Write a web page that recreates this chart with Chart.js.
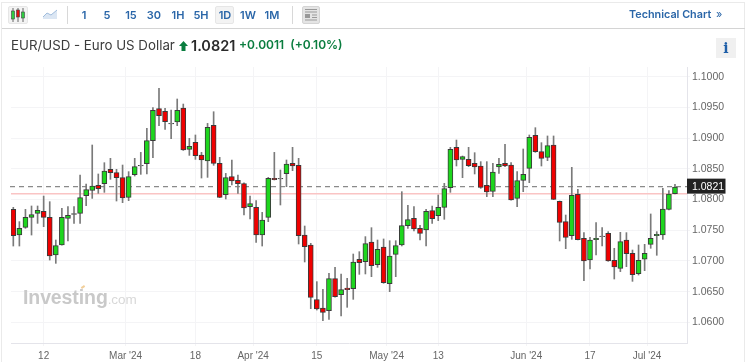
<!DOCTYPE html>
<html>
<head>
<meta charset="utf-8">
<title>EUR/USD</title>
<script src="https://cdn.jsdelivr.net/npm/chart.js@4"></script>
<style>
    html, body { margin: 0; padding: 0; background: #fff; }
    body { width: 748px; height: 362px; overflow: hidden; position: relative; font-family: Inter, sans-serif; }
    #frame { position: absolute; left: 1px; top: 2px; width: 744px; height: 370px; border: 1px solid #eaeaea; box-sizing: border-box; }
    #toolbar-line { position: absolute; left: 2px; top: 28px; width: 743px; height: 1px; background: #d4d4d4; }
    .tf { position: absolute; top: 7px; width: 24px; height: 16px; line-height: 16px; text-align: center; font-size: 11px; font-weight: 600; color: #2a66a8; }
    .sep { position: absolute; top: 6px; width: 1px; height: 18px; background: #d8d8d8; }
    .box { position: absolute; box-sizing: border-box; background: #f3f3f3; border: 1px solid #e6e6e6; border-radius: 2px; }
    #technical { position: absolute; left: 629px; top: 7px; font-size: 10.8px; font-weight: 600; color: #2a66a8; line-height: 16px; white-space: nowrap; }
    #title { position: absolute; left: 11px; top: 35px; height: 20px; line-height: 20px; font-size: 13.3px; color: #3c3c3c; white-space: nowrap; }
    #last { position: absolute; left: 191px; top: 36px; line-height: 20px; font-size: 14.5px; font-weight: 600; color: #2a2a2a; }
    #change { position: absolute; left: 239px; top: 35px; line-height: 20px; font-size: 12px; font-weight: 600; color: #0a7d3f; white-space: pre; }
    #info { position: absolute; left: 716px; top: 38px; width: 20px; height: 20px; line-height: 20px; background: #f0f0f0; text-align: center; font: bold 14px/20px "DejaVu Serif", serif; color: #1f5fa8; }
    #brand { position: absolute; left: 23px; top: 285px; font: bold 19.5px/24px "Liberation Sans", sans-serif; color: #c9c9c9; letter-spacing: -0.1px; white-space: nowrap; }
    #brand span { font-weight: normal; font-size: 13.5px; color: #d8d8d8; }
    #fleck { position: absolute; left: 81px; top: 286px; width: 4px; height: 2px; background: #f2cf9a; transform: rotate(-35deg); }
    canvas { position: absolute; left: 0; top: 0; }
    svg { position: absolute; }
</style>
</head>
<body>
<canvas id="price-chart" width="748" height="362"></canvas>
<div id="frame"></div>
<div id="toolbar-line"></div>
<div class="box" style="left:8px;top:6px;width:20px;height:18px"></div>
<svg style="left:10px;top:7px" width="16" height="16">
    <path d="M3 1v14M8 1v14M13 1v14" stroke="#666" stroke-width="1"/>
    <rect x="1.5" y="4" width="3" height="8" fill="#2ecc40" stroke="#444" stroke-width="0.6"/>
    <rect x="6.5" y="3" width="3" height="7" fill="#e01010" stroke="#444" stroke-width="0.6"/>
    <rect x="11.5" y="5" width="3" height="6" fill="#2ecc40" stroke="#444" stroke-width="0.6"/>
</svg>
<svg style="left:43px;top:9px" width="15" height="11">
    <path d="M0 8 L4 4 L8 6 L14 1 V10 H0 Z" fill="#dbe6f3"/>
    <path d="M0 8 L4 4 L8 6 L14 1" fill="none" stroke="#9fbcdc" stroke-width="1"/>
</svg>
<div class="sep" style="left:67px"></div>
<div class="box" style="left:215px;top:6px;width:19px;height:18px"></div>
<div class="tf" style="left:72px">1</div>
<div class="tf" style="left:95px">5</div>
<div class="tf" style="left:119px">15</div>
<div class="tf" style="left:142px">30</div>
<div class="tf" style="left:166px">1H</div>
<div class="tf" style="left:189px">5H</div>
<div class="tf" style="left:213px">1D</div>
<div class="tf" style="left:236px">1W</div>
<div class="tf" style="left:260px">1M</div>
<div class="sep" style="left:292px"></div>
<div class="box" style="left:302px;top:6px;width:18px;height:18px;background:#e4e4e4;border-color:#d4d4d4"></div>
<svg style="left:305px;top:9px" width="12" height="12">
    <path d="M0 .5H12M0 3H12M7 6H12M7 8.5H12M0 11H12" stroke="#999" stroke-width="1"/>
    <rect x="0" y="5" width="5" height="4" fill="#999"/>
</svg>
<div id="technical">Technical Chart <span style="font-weight:400;margin-left:2px">»</span></div>
<div id="title">EUR/USD - Euro US Dollar</div>
<svg style="left:179px;top:41px" width="9" height="10">
    <path d="M4.5 0 L9 5 H6.5 V10 H2.5 V5 H0 Z" fill="#0a7d3f"/>
</svg>
<div id="last">1.0821</div>
<div id="change">+0.0011  (+0.10%)</div>
<div id="info">i</div>
<div id="brand">Investing<span>.com</span></div>
<div id="fleck"></div>

<script>
    // Candle values, one entry per trading day
    const openPrices = [
        1.07840, 1.07422, 1.07547, 1.07710, 1.07775, 1.07808, 1.07710, 1.07097, 1.07260, 1.07694,
        1.07759, 1.07775, 1.08063, 1.08150, 1.08231, 1.08258, 1.08492, 1.08437, 1.08356, 1.08036,
        1.08405, 1.08546, 1.08584, 1.08958, 1.09479, 1.09436, 1.09230, 1.09262, 1.09490, 1.08817,
        1.08931, 1.08725, 1.08627, 1.09208, 1.08589, 1.08079, 1.08372, 1.08312, 1.08258, 1.07884,
        1.07873, 1.07422, 1.07710, 1.08345, 1.08334, 1.08421, 1.08589, 1.08557, 1.07422, 1.07260,
        1.06370, 1.06234, 1.06191, 1.06712, 1.06451, 1.06560, 1.06549, 1.07027, 1.06989, 1.07309,
        1.06940, 1.07227, 1.06630, 1.07108, 1.07260, 1.07575, 1.07694, 1.07531, 1.07504, 1.07819,
        1.07737, 1.07873, 1.08193, 1.08850, 1.08655, 1.08655, 1.08589, 1.08546, 1.08231, 1.08134,
        1.08530, 1.08589, 1.08562, 1.08020, 1.08313, 1.08508, 1.09045, 1.08779, 1.08687, 1.08888,
        1.07971, 1.07640, 1.07412, 1.08085, 1.07368, 1.07016, 1.07347, 1.07396, 1.07450, 1.07010,
        1.06880, 1.07341, 1.07124, 1.06793, 1.07027, 1.07271, 1.07412, 1.07423, 1.07841, 1.08096
    ];
    const highPrices = [
        1.07873, 1.07640, 1.07840, 1.07895, 1.07895, 1.08057, 1.07965, 1.07341, 1.07857, 1.07884,
        1.07884, 1.08399, 1.08253, 1.08888, 1.08416, 1.08600, 1.08671, 1.08492, 1.08562, 1.08454,
        1.08671, 1.08768, 1.09159, 1.09496, 1.09810, 1.09485, 1.09458, 1.09637, 1.09555, 1.08996,
        1.09051, 1.08768, 1.09240, 1.09430, 1.08687, 1.08426, 1.08644, 1.08399, 1.08274, 1.08057,
        1.07981, 1.07791, 1.08361, 1.08768, 1.08481, 1.08644, 1.08850, 1.08671, 1.07569, 1.07287,
        1.06663, 1.06538, 1.06798, 1.06896, 1.06788, 1.06717, 1.07113, 1.07151, 1.07396, 1.07542,
        1.07341, 1.07358, 1.07330, 1.07330, 1.08128, 1.07906, 1.07884, 1.07580, 1.07841, 1.07895,
        1.08074, 1.08264, 1.08850, 1.08969, 1.08709, 1.08850, 1.08763, 1.08617, 1.08617, 1.08589,
        1.08671, 1.08899, 1.08600, 1.08454, 1.08823, 1.09051, 1.09170, 1.08926, 1.09035, 1.09035,
        1.07976, 1.07748, 1.08524, 1.08166, 1.07461, 1.07385, 1.07623, 1.07542, 1.07477, 1.07206,
        1.07466, 1.07461, 1.07178, 1.07260, 1.07271, 1.07765, 1.07477, 1.08182, 1.08144, 1.08248
    ];
    const lowPrices = [
        1.07243, 1.07243, 1.07531, 1.07422, 1.07612, 1.07558, 1.07015, 1.06961, 1.07255, 1.07325,
        1.07612, 1.07612, 1.07900, 1.08019, 1.08101, 1.08117, 1.08329, 1.07976, 1.07949, 1.07981,
        1.08383, 1.08410, 1.08416, 1.08682, 1.09203, 1.09143, 1.08991, 1.09203, 1.08800, 1.08719,
        1.08654, 1.08350, 1.08361, 1.08557, 1.08030, 1.08009, 1.08236, 1.08101, 1.07748, 1.07683,
        1.07303, 1.07243, 1.07640, 1.08318, 1.07911, 1.08209, 1.08470, 1.07276, 1.06983, 1.06223,
        1.06201, 1.06028, 1.06049, 1.06412, 1.06104, 1.06245, 1.06375, 1.06782, 1.06788, 1.06744,
        1.06896, 1.06636, 1.06500, 1.06744, 1.07244, 1.07531, 1.07488, 1.07341, 1.07244, 1.07613,
        1.07656, 1.07678, 1.08117, 1.08546, 1.08356, 1.08535, 1.08416, 1.08182, 1.08047, 1.08047,
        1.08427, 1.08535, 1.07988, 1.07884, 1.08128, 1.08275, 1.08768, 1.08546, 1.08633, 1.07998,
        1.07325, 1.07200, 1.07352, 1.07341, 1.06679, 1.06869, 1.07097, 1.07244, 1.06994, 1.06706,
        1.06826, 1.06907, 1.06668, 1.06771, 1.06842, 1.07206, 1.07092, 1.07352, 1.07830, 1.08090
    ];
    const closePrices = [
        1.07412, 1.07531, 1.07710, 1.07754, 1.07824, 1.07710, 1.07081, 1.07249, 1.07710, 1.07743,
        1.07770, 1.08030, 1.08161, 1.08220, 1.08177, 1.08464, 1.08437, 1.08356, 1.08025, 1.08372,
        1.08535, 1.08557, 1.08958, 1.09452, 1.09365, 1.09268, 1.09240, 1.09452, 1.08806, 1.08866,
        1.08714, 1.08644, 1.09175, 1.08589, 1.08036, 1.08356, 1.08302, 1.08258, 1.07862, 1.07933,
        1.07422, 1.07667, 1.08345, 1.08323, 1.08345, 1.08578, 1.08546, 1.07412, 1.07232, 1.06408,
        1.06218, 1.06163, 1.06712, 1.06418, 1.06532, 1.06532, 1.06983, 1.06972, 1.07282, 1.06923,
        1.07189, 1.06647, 1.07081, 1.07249, 1.07575, 1.07672, 1.07520, 1.07450, 1.07808, 1.07689,
        1.07873, 1.08177, 1.08817, 1.08644, 1.08698, 1.08552, 1.08530, 1.08199, 1.08123, 1.08448,
        1.08573, 1.08546, 1.07993, 1.08307, 1.08410, 1.09013, 1.08779, 1.08671, 1.08877, 1.08003,
        1.07629, 1.07385, 1.08068, 1.07347, 1.06999, 1.07341, 1.07368, 1.07406, 1.06999, 1.06902,
        1.07314, 1.07119, 1.06777, 1.07010, 1.07124, 1.07368, 1.07434, 1.07846, 1.08090, 1.08204
    ];

    // Axis ticks: x ticks sit on candle numbers, y ticks on prices
    const xTickPositions = [5, 18.5, 30, 39.5, 50, 61.5, 70, 84.5, 95, 104.4];
    const xTickLabels = ['12', "Mar '24", '18', "Apr '24", '15', "May '24", '13', "Jun '24", '17', "Jul '24"];
    const yTicks = [1.06, 1.065, 1.07, 1.075, 1.08, 1.085, 1.09, 1.095, 1.10];

    const lastPrice = 1.0821;
    const prevClose = 1.08095;

    const UP_COLOR = '#1ed61e';
    const DOWN_COLOR = '#f00000';
    const DOJI_COLOR = '#888888';

    function bodyColor(i) {
        const diff = closePrices[i] - openPrices[i];
        if (Math.abs(diff) < 0.00015) {
            return DOJI_COLOR;
        }
        return diff > 0 ? UP_COLOR : DOWN_COLOR;
    }

    // Reference lines under the candles and the price tag on the axis
    const priceLines = {
        id: 'priceLines',
        beforeDatasetsDraw(chart) {
            const { ctx, chartArea, scales } = chart;
            const yLast = scales.y.getPixelForValue(lastPrice);
            const yPrev = scales.y.getPixelForValue(prevClose);
            ctx.save();
            ctx.strokeStyle = '#fac4c4';
            ctx.lineWidth = 1.6;
            ctx.beginPath();
            ctx.moveTo(chartArea.left, yPrev);
            ctx.lineTo(chartArea.right, yPrev);
            ctx.stroke();
            ctx.strokeStyle = '#8a8a8a';
            ctx.lineWidth = 1.2;
            ctx.setLineDash([5, 4]);
            ctx.beginPath();
            ctx.moveTo(chartArea.left - 1, yLast);
            ctx.lineTo(chartArea.right, yLast);
            ctx.stroke();
            ctx.restore();
        },
        afterDraw(chart) {
            const { ctx, chartArea, scales } = chart;
            const y = scales.y.getPixelForValue(lastPrice);
            ctx.save();
            ctx.fillStyle = '#222222';
            ctx.fillRect(chartArea.right, y - 8, 38.5, 15);
            ctx.fillStyle = '#ffffff';
            ctx.font = '10.5px "Liberation Sans"';
            ctx.textBaseline = 'middle';
            ctx.fillText(lastPrice.toFixed(4), chartArea.right + 5, y);
            ctx.restore();
        }
    };

    const indexes = openPrices.map((v, i) => i);

    new Chart(document.getElementById('price-chart').getContext('2d'), {
        type: 'bar',
        plugins: [priceLines],
        data: {
            datasets: [
                {
                    label: 'Body',
                    data: indexes.map(i => ({ x: i, y: [openPrices[i], closePrices[i]] })),
                    backgroundColor: indexes.map(bodyColor),
                    borderColor: '#3a3a3a',
                    borderWidth: 1,
                    borderSkipped: false,
                    barThickness: 5,
                    grouped: false,
                    order: 1
                },
                {
                    label: 'Wick',
                    data: indexes.map(i => ({ x: i, y: [lowPrices[i], highPrices[i]] })),
                    backgroundColor: '#7a7a7a',
                    barThickness: 1,
                    grouped: false,
                    order: 2
                }
            ]
        },
        options: {
            responsive: false,
            animation: false,
            devicePixelRatio: 1,
            layout: { padding: { left: 11, top: 67, right: 0, bottom: 0 } },
            plugins: {
                legend: { display: false },
                tooltip: { enabled: false }
            },
            scales: {
                x: {
                    type: 'linear',
                    offset: false,
                    min: -0.38,
                    max: 110.98,
                    afterBuildTicks(axis) {
                        axis.ticks = xTickPositions.map(v => ({ value: v }));
                    },
                    afterFit(axis) {
                        axis.height = 19;
                    },
                    grid: { color: '#f4f4f6', offset: false, tickLength: 3 },
                    border: { color: '#e4e4ea' },
                    ticks: {
                        autoSkip: false,
                        maxRotation: 0,
                        padding: 4,
                        color: '#666666',
                        font: { family: '"Liberation Sans"', size: 10 },
                        callback(value) {
                            return xTickLabels[xTickPositions.indexOf(value)];
                        }
                    }
                },
                y: {
                    position: 'right',
                    min: 1.05664,
                    max: 1.10158,
                    afterBuildTicks(axis) {
                        axis.ticks = yTicks.map(v => ({ value: v }));
                    },
                    afterFit(axis) {
                        axis.width = 61;
                    },
                    grid: { color: '#f4f4f6', tickLength: 3 },
                    border: { color: '#e4e4ea' },
                    ticks: {
                        padding: 2,
                        color: '#666666',
                        font: { family: '"Liberation Sans"', size: 10.5 },
                        callback(value) {
                            return value.toFixed(4);
                        }
                    }
                }
            }
        }
    });
</script>
</body>
</html>
